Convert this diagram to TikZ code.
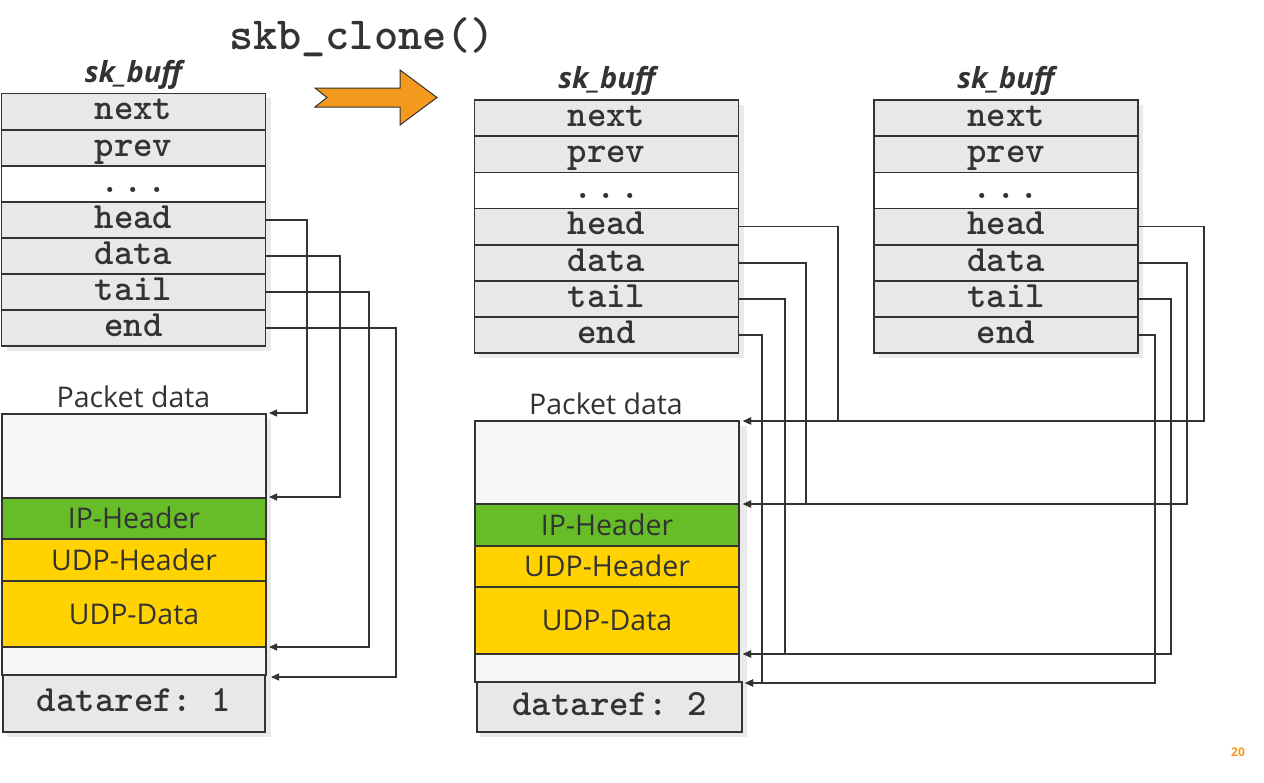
\documentclass[tikz,border=0pt]{standalone}
\usepackage{fontspec}
\setsansfont{Open Sans}
\usetikzlibrary{arrows.meta}
\definecolor{dk}{HTML}{333333}
\definecolor{rowgray}{HTML}{E8E8E8}
\definecolor{pktwhite}{HTML}{F7F7F7}
\definecolor{ipgreen}{HTML}{67BD28}
\definecolor{udpyellow}{HTML}{FFD200}
\definecolor{orng}{HTML}{F39A1E}
\definecolor{shadowgray}{HTML}{EAEAEA}
\newcommand{\rowdots}{.\hspace{4pt}.\hspace{4pt}.}
\begin{document}
\begin{tikzpicture}[x=1pt,y=-1pt,
  field/.style={draw=dk,line width=1.8pt,fill=rowgray,minimum width=264pt,minimum height=36.2pt,
    inner sep=0pt,text=dk,font=\fontsize{37}{37}\selectfont\ttfamily\bfseries,text height=16pt,text depth=0pt},
  blank/.style={field,fill=white},
  pkt/.style={draw=dk,line width=1.8pt,minimum width=264pt,inner sep=0pt,text=dk,
    font=\sffamily\fontsize{28.5}{28.5}\selectfont,text height=20.3pt,text depth=0pt},
  refbox/.style={draw=dk,line width=1.8pt,fill=rowgray,inner sep=0pt,text=dk,
    font=\fontsize{37}{37}\selectfont\ttfamily\bfseries,text height=16pt,text depth=0pt},
  structlabel/.style={text=dk,font=\sffamily\bfseries\itshape\fontsize{29}{29}\selectfont},
  pktlabel/.style={text=dk,font=\sffamily\fontsize{28.5}{28.5}\selectfont},
  conn/.style={draw=dk,line width=1.3pt},
  tip/.style={-{Triangle[length=8pt,width=7pt]}}]

\fill[white] (0,0) rectangle (1264,782);
\useasboundingbox (0,0) rectangle (1264,782);

% title and clone arrow
\node[text=dk,font=\fontsize{46}{46}\selectfont\ttfamily\bfseries] (title) at (362,37) {skb\_clone()};
\draw[fill=orng,draw=dk,line width=1pt] (315,88) -- (400,88) -- (400,70) -- (437,97.5) -- (400,125)
  -- (400,107) -- (315,107) -- (327,97.5) -- cycle;

% shadows
\fill[shadowgray] (7,98) rectangle (271,351);
\fill[shadowgray] (7,419) rectangle (271,737);
\fill[shadowgray] (479,105) rectangle (744,358);
\fill[shadowgray] (480,426) rectangle (747,737);
\fill[shadowgray] (879,105) rectangle (1143,358);

% ---------- left sk_buff ----------
\node[structlabel] (Llab) at (133.5,75) {sk\_buff};
\node[field] (Lnext) at (133.5,111.5) {next};
\node[field] (Lprev) at (133.5,148) {prev};
\node[blank] (Ldots) at (133.5,184) {\rowdots};
\node[field] (Lhead) at (133.5,220) {head};
\node[field] (Ldata) at (133.5,256) {data};
\node[field] (Ltail) at (133.5,292) {tail};
\node[field] (Lend)  at (133.5,328) {end};

% left packet data
\node[pktlabel] (Lplab) at (133.5,397) {Packet data};
\node[pkt,fill=pktwhite,minimum height=84pt] (Lp0) at (134,456) {};
\node[pkt,fill=ipgreen,minimum height=41pt] (Lip) at (134,518.5) {IP-Header};
\node[pkt,fill=udpyellow,minimum height=42pt] (Ludph) at (134,560) {UDP-Header};
\node[pkt,fill=udpyellow,minimum height=66pt] (Ludpd) at (134,614) {UDP-Data};
\node[pkt,fill=pktwhite,minimum height=28pt] (Lp1) at (134,661) {};
\node[refbox,minimum width=262pt,minimum height=57pt] (Lref) at (134,703.5) {dataref:~1};

\coordinate (La1) at (269,413);
\coordinate (La2) at (269,497);
\coordinate (La3) at (269,647);
\coordinate (La4) at (271,677);
\draw[conn,tip] (Lhead.east) -| (307,413) -- (La1);
\draw[conn,tip] (Ldata.east) -| (340,497) -- (La2);
\draw[conn,tip] (Ltail.east) -| (369,647) -- (La3);
\draw[conn,tip] (Lend.east)  -| (396,677) -- (La4);

% ---------- middle sk_buff ----------
\node[structlabel] (Mlab) at (607,81) {sk\_buff};
\node[field] (Mnext) at (606.5,118) {next};
\node[field] (Mprev) at (606.5,154.5) {prev};
\node[blank] (Mdots) at (606.5,190.5) {\rowdots};
\node[field] (Mhead) at (606.5,226.5) {head};
\node[field] (Mdata) at (606.5,263) {data};
\node[field] (Mtail) at (606.5,299) {tail};
\node[field] (Mend)  at (606.5,335) {end};

% ---------- right sk_buff ----------
\node[structlabel] (Rlab) at (1006,81) {sk\_buff};
\node[field] (Rnext) at (1006,118) {next};
\node[field] (Rprev) at (1006,154.5) {prev};
\node[blank] (Rdots) at (1006,190.5) {\rowdots};
\node[field] (Rhead) at (1006,226.5) {head};
\node[field] (Rdata) at (1006,263) {data};
\node[field] (Rtail) at (1006,299) {tail};
\node[field] (Rend)  at (1006,335) {end};

% middle packet data
\node[pktlabel] (Mplab) at (606,404) {Packet data};
\node[pkt,fill=pktwhite,minimum height=83pt] (Mp0) at (607,462.5) {};
\node[pkt,fill=ipgreen,minimum height=42pt] (Mip) at (607,525) {IP-Header};
\node[pkt,fill=udpyellow,minimum height=41pt] (Mudph) at (607,566.5) {UDP-Header};
\node[pkt,fill=udpyellow,minimum height=67pt] (Mudpd) at (607,620.5) {UDP-Data};
\node[pkt,fill=pktwhite,minimum height=28pt] (Mp1) at (607,668) {};
\node[refbox,minimum width=265pt,minimum height=50pt] (Mref) at (609.5,707) {dataref:~2};

\coordinate (Ma1) at (743,421);
\coordinate (Ma2) at (743,504);
\coordinate (Ma3) at (743,654);
\coordinate (Ma4) at (745,683);
\draw[conn,tip] (Mhead.east) -| (838,421) -- (Ma1);
\draw[conn,tip] (Mdata.east) -| (806,504) -- (Ma2);
\draw[conn,tip] (Mtail.east) -| (785,654) -- (Ma3);
\draw[conn,tip] (Mend.east)  -| (762,683) -- (Ma4);
\draw[conn,tip] (Rhead.east) -| (1204,421) -- (Ma1);
\draw[conn,tip] (Rdata.east) -| (1187,504) -- (Ma2);
\draw[conn,tip] (Rtail.east) -| (1171,654) -- (Ma3);
\draw[conn,tip] (Rend.east)  -| (1155,683) -- (Ma4);

% page number
\node[text=orng,font=\sffamily\bfseries\fontsize{12}{12}\selectfont] (pagenum) at (1238,752) {20};
\end{tikzpicture}
\end{document}
